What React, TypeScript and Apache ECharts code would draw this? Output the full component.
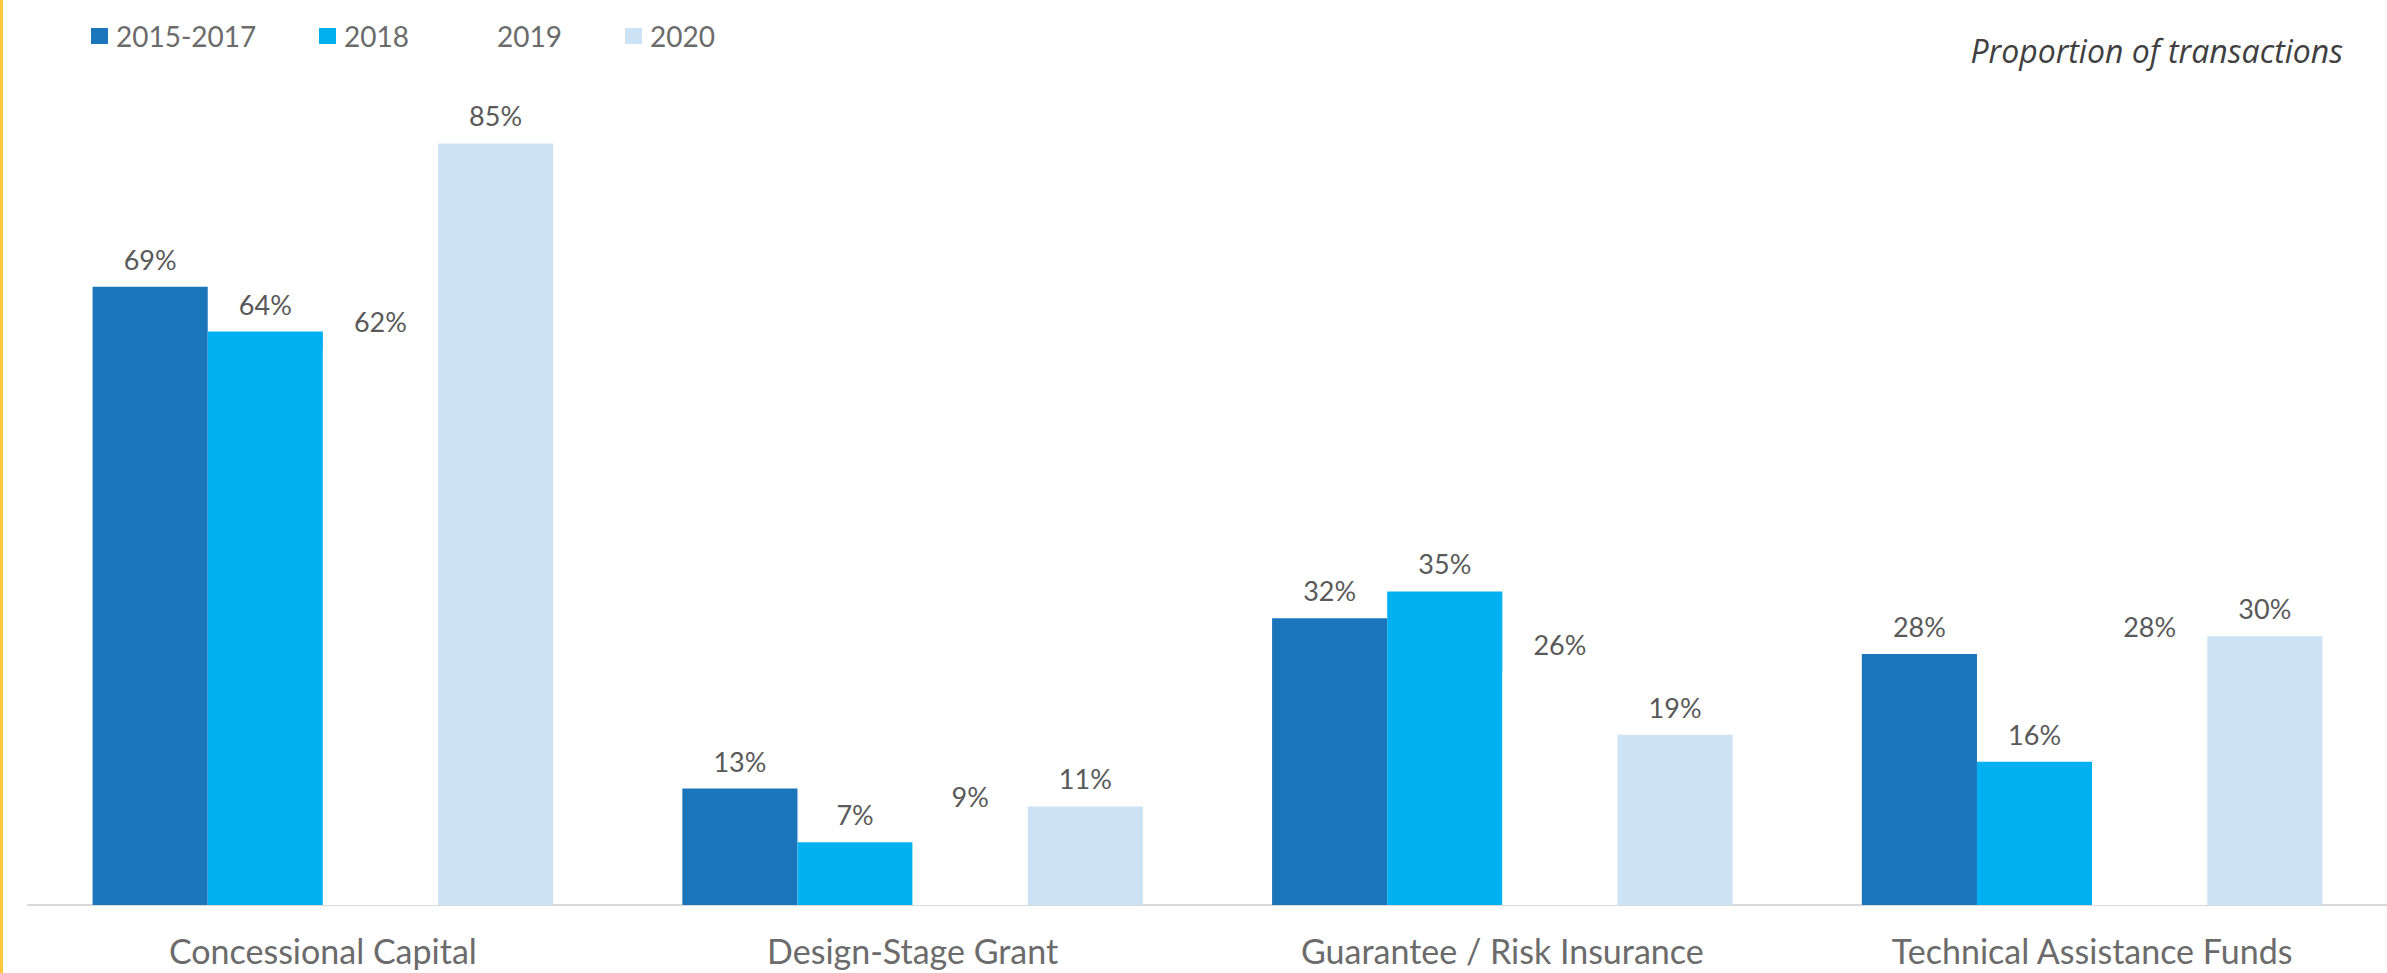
import React, { useEffect, useRef } from "react";
import * as echarts from "echarts";

const categories = [
  "Concessional Capital",
  "Design-Stage Grant",
  "Guarantee / Risk Insurance",
  "Technical Assistance Funds",
];
const seriesNames = ["2015-2017", "2018", "2019", "2020"];
const values2015to2017 = [69, 13, 32, 28];
const values2018 = [64, 7, 35, 16];
const values2019 = [62, 9, 26, 28];
const values2020 = [85, 11, 19, 30];

const seriesColors = ["#1B75BB", "#00B0F0", "#FFFFFF", "#CCE3F6"];
const legendLefts = [91, 319, 472, 625];

const App: React.FC = () => {
  const ref = useRef<HTMLDivElement>(null);

  useEffect(() => {
    if (!ref.current) return;
    const chart = echarts.init(ref.current, null, { renderer: "svg" });
    const seriesValues = [values2015to2017, values2018, values2019, values2020];

    const series = seriesNames.map((name, i) => ({
      name,
      type: "bar",
      data: seriesValues[i],
      barGap: "0%",
      barCategoryGap: "21.9%",
      itemStyle: { color: seriesColors[i] },
      label: {
        show: true,
        position: "top",
        distance: 14,
        formatter: "{c}%",
        color: "#595959",
        fontSize: 27,
        fontFamily: "Lato",
      },
    }));

    const legends = seriesNames.map((name, i) => ({
      data: [name],
      left: legendLefts[i],
      top: 22,
      padding: 0,
      itemWidth: 17,
      itemHeight: 16,
      icon: "rect",
      itemStyle: { color: seriesColors[i] },
      selectedMode: false,
      textStyle: {
        color: "#6b6b6b",
        fontSize: 28,
        fontFamily: "Lato",
        padding: [0, 0, 0, 3],
      },
    }));

    chart.setOption({
      animation: false,
      backgroundColor: "#ffffff",
      title: {
        text: "Proportion of transactions",
        right: 44,
        top: 34,
        padding: 0,
        textStyle: {
          color: "#404040",
          fontSize: 32,
          fontStyle: "italic",
          fontWeight: "normal",
          fontFamily: "Open Sans",
        },
      },
      legend: legends,
      grid: { left: 28, right: -1, top: 9, bottom: 68, containLabel: false },
      xAxis: {
        type: "category",
        data: categories,
        axisLine: { lineStyle: { color: "#d9d9d9", width: 2 } },
        axisTick: { show: false },
        axisLabel: {
          color: "#6b6b6b",
          fontSize: 34,
          fontFamily: "Lato",
          margin: 28,
        },
      },
      yAxis: {
        type: "value",
        min: 0,
        max: 100,
        show: false,
        splitLine: { show: false },
      },
      graphic: [
        {
          type: "rect",
          left: 0,
          top: 0,
          shape: { width: 3, height: 973 },
          style: { fill: "#FFC83D" },
          z: 10,
        },
      ],
      series,
    });

    return () => chart.dispose();
  }, []);

  return (
    <div
      ref={ref}
      style={{ position: "fixed", left: 0, top: 0, width: 2387, height: 973 }}
    />
  );
};

export default App;
